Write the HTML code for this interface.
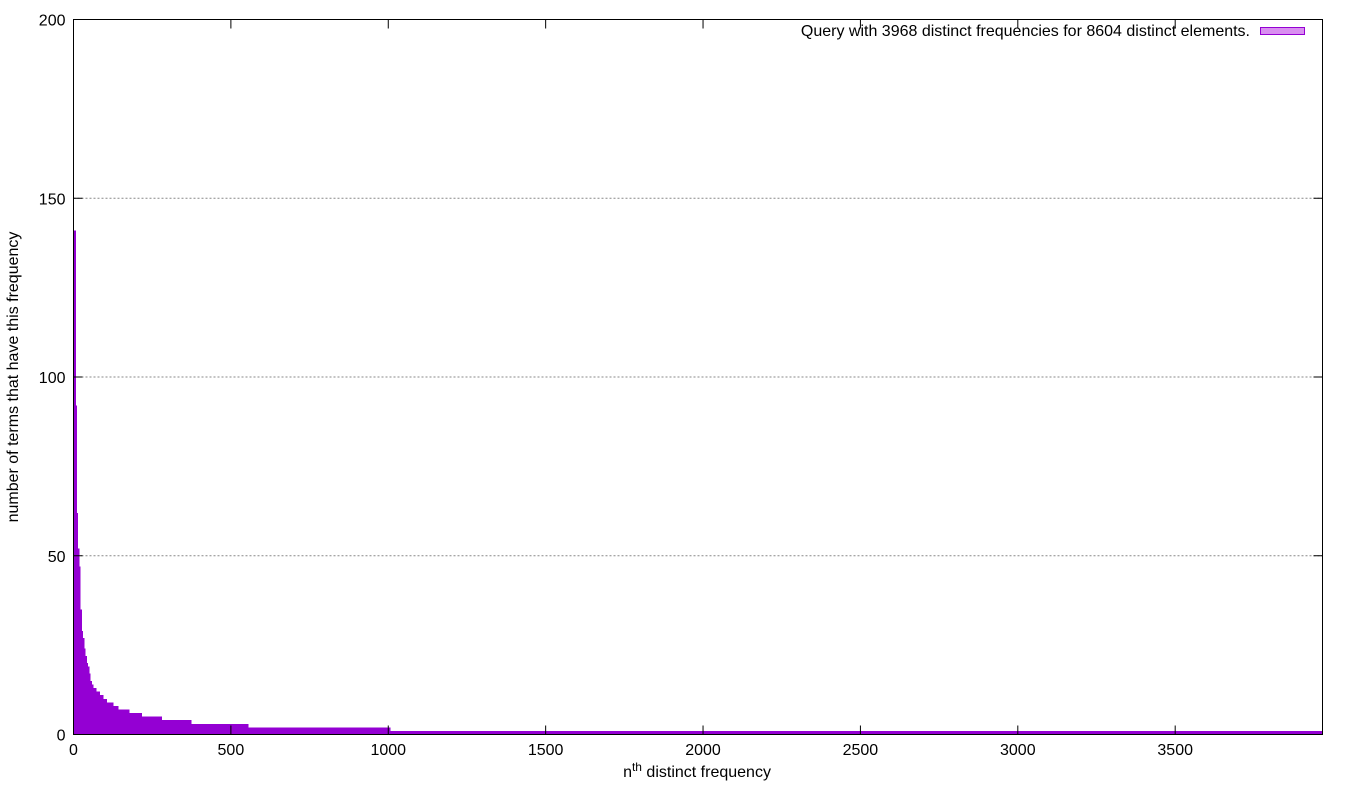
<!DOCTYPE html>
<html><head><meta charset="utf-8"><style>
body{margin:0;background:#fff}
svg text{font-family:"Liberation Sans",sans-serif;font-size:16px;fill:#000}
</style></head><body>
<svg id="chart" width="1350" height="800" xmlns="http://www.w3.org/2000/svg">
<g id="grid"></g>
<g id="bars" shape-rendering="crispEdges"></g>
<g id="axes"></g>
<rect x="73.5" y="19.5" width="1249" height="715" fill="none" stroke="#000" stroke-width="1"/>
<text transform="translate(18,377) rotate(-90)" text-anchor="middle">number of terms that have this frequency</text>
<text x="697" y="777" text-anchor="middle">n<tspan dy="-6" font-size="12">th</tspan><tspan dy="6"> distinct frequency</tspan></text>
<g>
<text x="1250" y="36" text-anchor="end">Query with 3968 distinct frequencies for 8604 distinct elements.</text>
<rect x="1260.5" y="27.5" width="44" height="7" fill="#d98ff0" stroke="#9400d3"/>
</g>
</svg>
<script>
const stepStart = [0,6,9,13,17,21,25,29,33,37,41,45,49,53,57,62,72,83,93,105,125,141,176,216,280,373,555,1006];
const stepValue = [141,92,62,52,47,35,29,27,24,22,20,19,17,15,14,13,12,11,10,9,8,7,6,5,4,3,2,1];
const xTicks = [0,500,1000,1500,2000,2500,3000,3500];
const yTicks = [0,50,100,150,200];
const xMax = 3968, yMax = 200;

const NS = "http://www.w3.org/2000/svg";
const X0 = 73.5, X1 = 1322.5, Y0 = 734.5, Y1 = 19.5;
const sx = v => X0 + (v / xMax) * (X1 - X0);
const sy = v => Y0 - (v / yMax) * (Y0 - Y1);
function mk(tag, attrs, parent) {
  const e = document.createElementNS(NS, tag);
  for (const k in attrs) e.setAttribute(k, attrs[k]);
  parent.appendChild(e);
  return e;
}
const grid = document.getElementById('grid');
const bars = document.getElementById('bars');
const axes = document.getElementById('axes');

yTicks.forEach(t => {
  if (t > 0) {
    const g = mk('line', {x1: X0, x2: X1, y1: sy(t), y2: sy(t), stroke: '#888', 'stroke-dasharray': '2,2'}, grid);
    
    
  }
  const l = mk('line', {x1: X0, x2: X0 + 9, y1: sy(t), y2: sy(t), stroke: '#000'}, axes);
  
  
  const r = mk('line', {x1: X1, x2: X1 - 9, y1: sy(t), y2: sy(t), stroke: '#000'}, axes);
  
  
  const tx = mk('text', {x: X0 - 8, y: sy(t) + 6, 'text-anchor': 'end'}, axes);
  tx.textContent = t;
  
  
});
xTicks.forEach(t => {
  const l = mk('line', {x1: sx(t), x2: sx(t), y1: Y0, y2: Y0 - 9, stroke: '#000'}, axes);
  
  
  const u = mk('line', {x1: sx(t), x2: sx(t), y1: Y1, y2: Y1 + 9, stroke: '#000'}, axes);
  
  
  const tx = mk('text', {x: sx(t), y: 755, 'text-anchor': 'middle'}, axes);
  tx.textContent = t;
  
  
});
for (let i = 0; i < stepValue.length; i++) {
  const a = stepStart[i];
  const b = i < stepStart.length - 1 ? stepStart[i + 1] : xMax;
  const v = stepValue[i];
  const r = mk('rect', {x: sx(a), y: sy(v), width: Math.max(1, sx(b) - sx(a) + 0.5), height: Y0 - sy(v), fill: '#9400d3'}, bars);
  
  
}
</script>
</body></html>
